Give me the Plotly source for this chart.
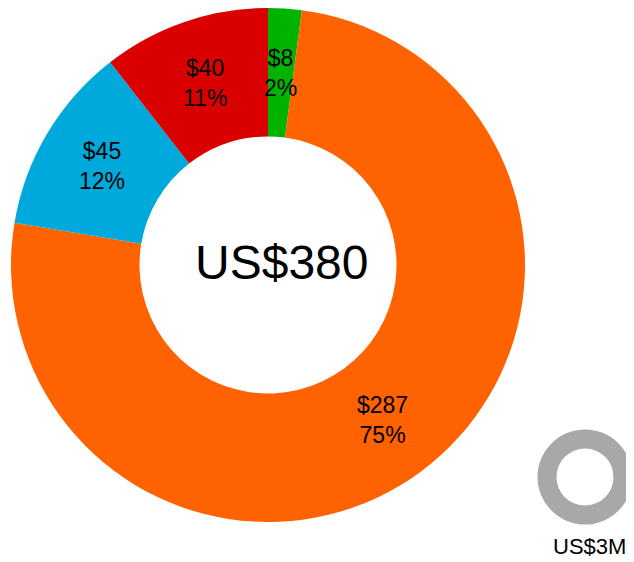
import math
import plotly.graph_objects as go

labels = ["Green", "Orange", "Blue", "Red"]
values = [8, 287, 45, 40]
percents = [2, 75, 12, 11]
colors = ["#00B300", "#FF6200", "#00A9DB", "#DA0000"]
total_label = "US$380"
small_values = [3]
small_label = "US$3M"

# page body has an 8px margin, so the figure is placed 8px in
OFF = 8
W, H = 634 - OFF, 562 - OFF
FONT = "Liberation Sans, Arial"

# main donut geometry (pixels, page coords)
cx, cy, R, hole = 268, 265, 257, 0.5
# small ring geometry
scx, scy, sR = 585, 477, 47.5


def px(x):
    return min(1, max(0, (x - OFF) / W))


def py(y):
    return min(1, max(0, 1 - (y - OFF) / H))


fig = go.Figure()
fig.add_trace(go.Pie(
    labels=labels, values=values, sort=False, direction="clockwise", rotation=0,
    hole=hole, marker=dict(colors=colors, line=dict(width=0)),
    textinfo="none",
    domain=dict(x=[px(cx - R), px(cx + R)], y=[py(cy + R), py(cy - R)]),
    showlegend=False, hoverinfo="skip",
))
fig.add_trace(go.Pie(
    labels=["total"], values=small_values, hole=0.6,
    marker=dict(colors=["#A8A8A8"], line=dict(width=0)),
    textinfo="none",
    domain=dict(x=[px(scx - sR), px(scx + sR)], y=[py(scy + sR), py(scy - sR)]),
    showlegend=False, hoverinfo="skip",
))

# slice labels at the middle of each slice, mid-ring radius
total = sum(values)
rmid = R * (1 + hole) / 2
cum = 0
for v, p in zip(values, percents):
    ang = 2 * math.pi * (cum + v / 2) / total
    cum += v
    lx = cx + rmid * math.sin(ang)
    ly = cy - rmid * math.cos(ang)
    fig.add_annotation(text=f"${v}<br>{p}%", x=px(lx), y=py(ly), xref="paper", yref="paper",
                       xanchor="center", yanchor="middle", showarrow=False,
                       font=dict(family=FONT, size=23, color="black"))

fig.add_annotation(text=total_label, x=px(cx + 13), y=py(cy - 3), xref="paper", yref="paper",
                   xanchor="center", yanchor="middle", showarrow=False,
                   font=dict(family=FONT, size=48, color="black"))
fig.add_annotation(text=small_label, x=px(589), y=py(546), xref="paper", yref="paper",
                   xanchor="center", yanchor="middle", showarrow=False,
                   font=dict(family=FONT, size=22, color="black"))
fig.update_layout(width=W, height=H, margin=dict(l=0, r=0, t=0, b=0),
                  paper_bgcolor="white", plot_bgcolor="white")
fig.write_html("out.html")
